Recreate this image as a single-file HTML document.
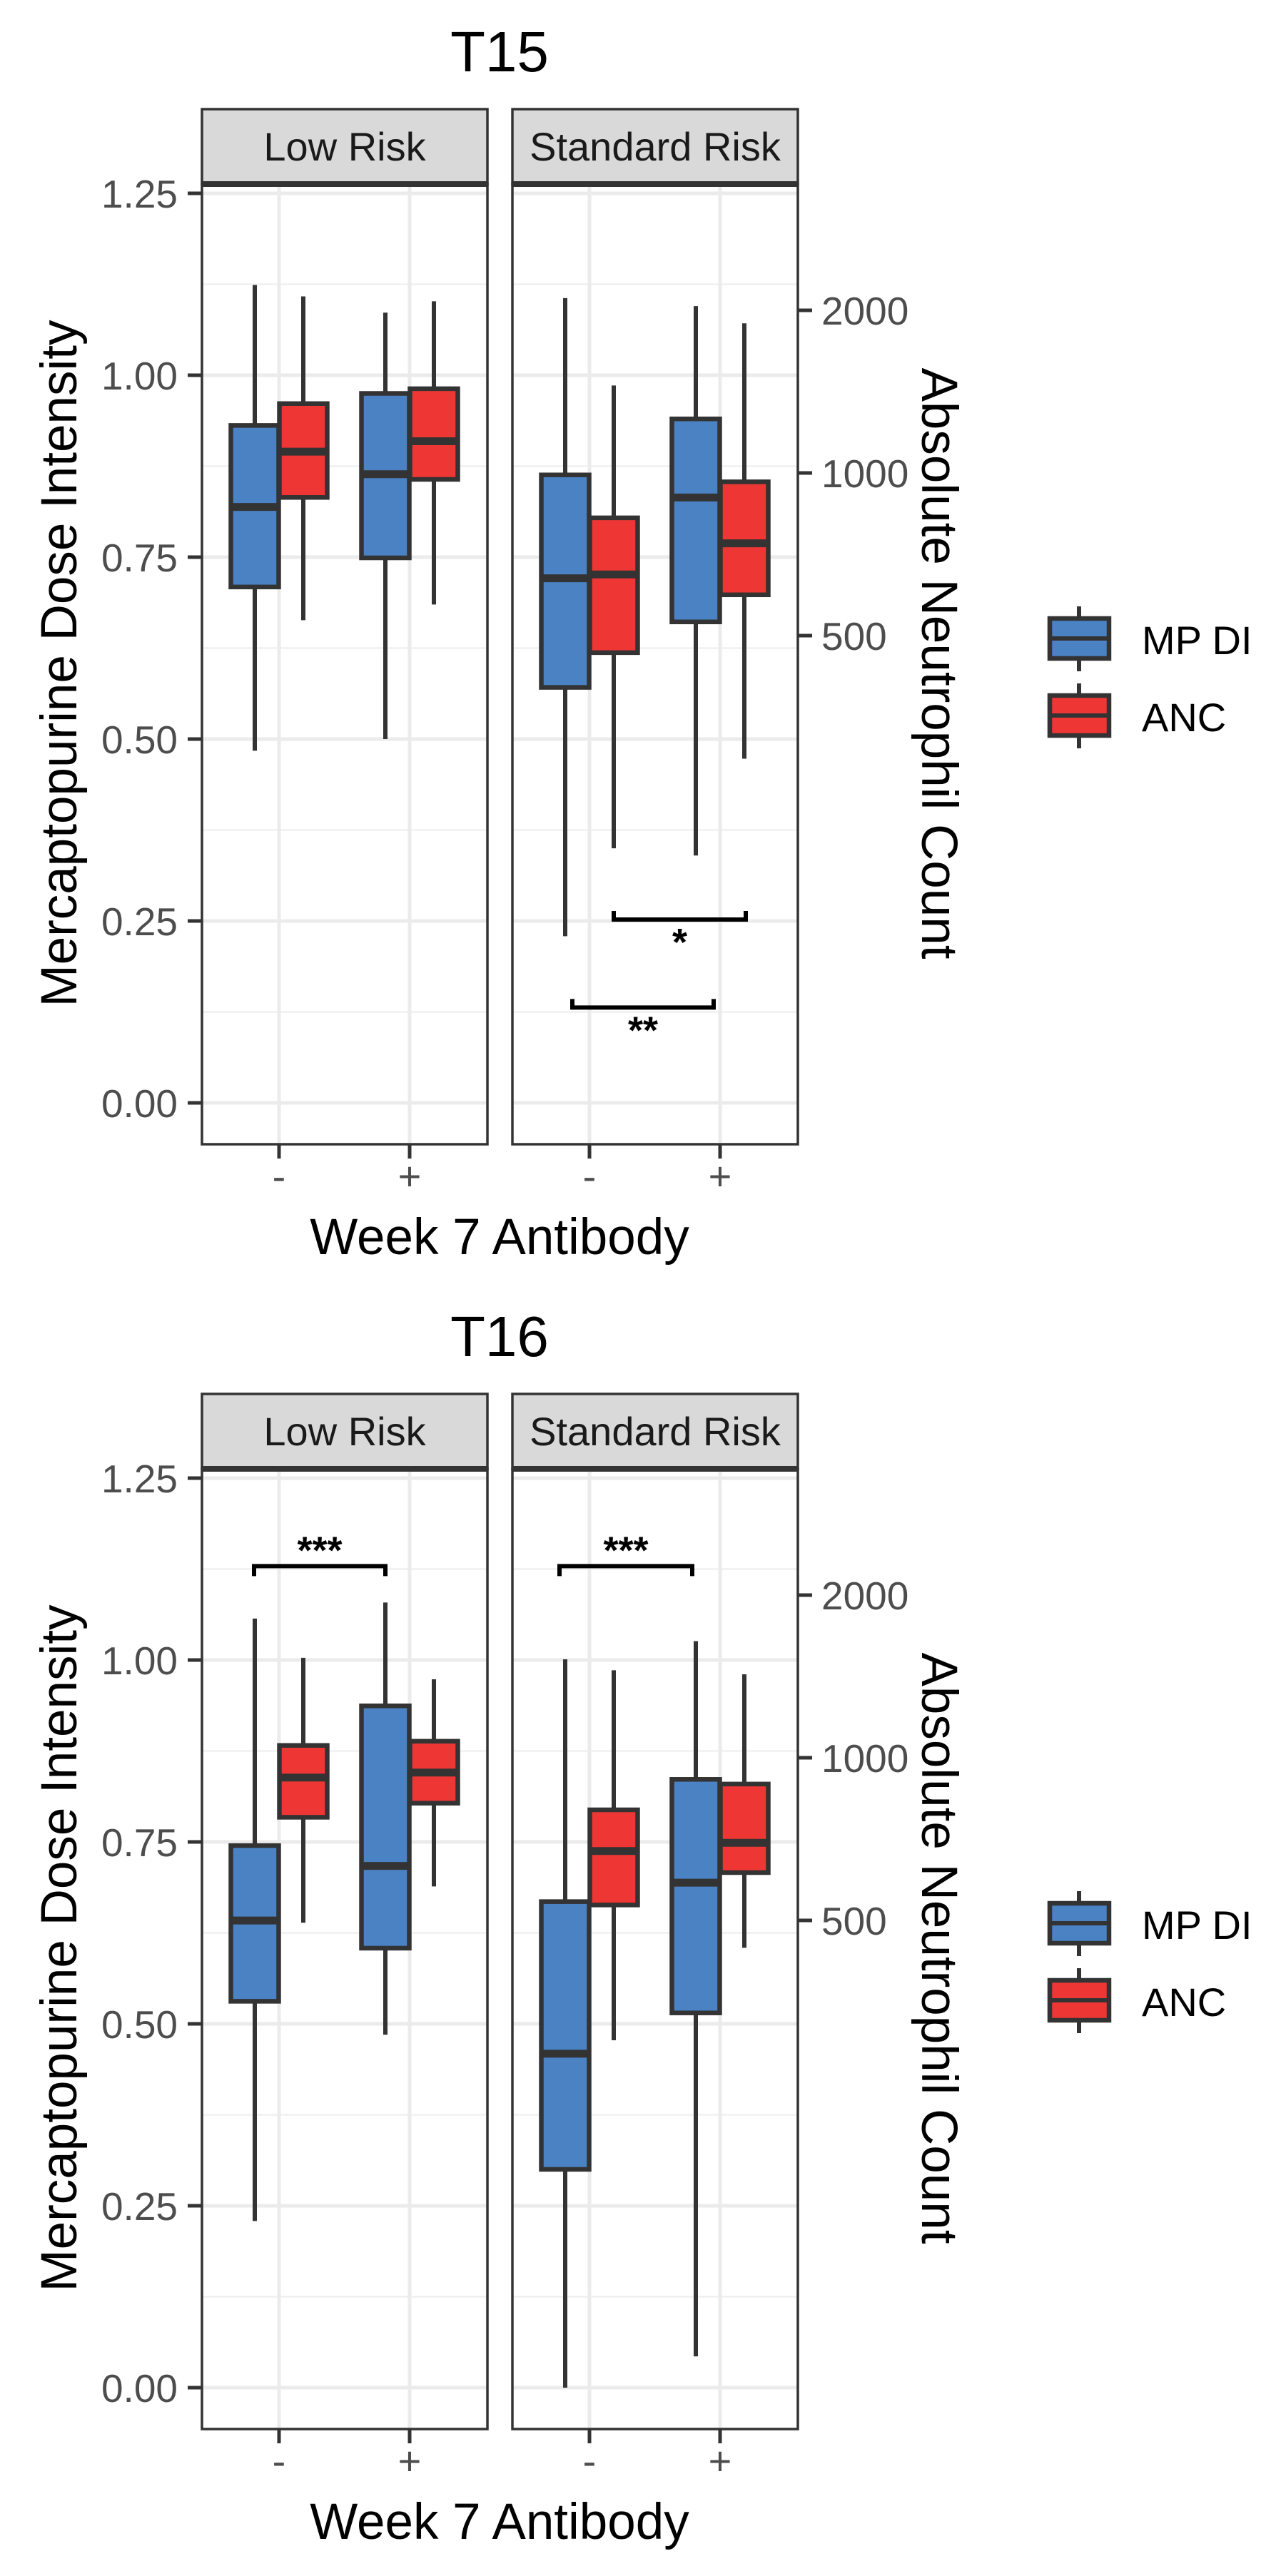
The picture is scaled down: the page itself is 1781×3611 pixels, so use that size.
<!DOCTYPE html>
<html><head><meta charset="utf-8"><style>
html,body{margin:0;padding:0;background:#fff;}
svg{display:block;font-family:"Liberation Sans",Arial,sans-serif;}
</style></head><body>
<svg id="chart" xmlns="http://www.w3.org/2000/svg" width="1781" height="3611" viewBox="0 0 1781 3611"></svg>
<script>
// ---- data ----
const plotTitles = ["T15", "T16"];
const facets = ["Low Risk", "Standard Risk"];
const groups = ["-", "+"];
const diTicks = [0, 0.25, 0.5, 0.75, 1.0, 1.25];
const diTickLabels = ["0.00", "0.25", "0.50", "0.75", "1.00", "1.25"];
const ancTicks = [500, 1000, 2000];
// MP DI boxes [facet][group] = [lowWhisker, q1, median, q3, highWhisker]
const mpdiT15 = [
  [[0.484, 0.709, 0.819, 0.931, 1.124], [0.500, 0.749, 0.864, 0.975, 1.086]],
  [[0.229, 0.571, 0.721, 0.863, 1.106], [0.340, 0.661, 0.832, 0.940, 1.095]]
];
const mpdiT16 = [
  [[0.229, 0.531, 0.642, 0.745, 1.057], [0.485, 0.604, 0.717, 0.937, 1.079]],
  [[0.000, 0.300, 0.459, 0.668, 1.001], [0.043, 0.515, 0.694, 0.836, 1.026]]
];
// ANC boxes
const ancT15 = [
  [[534, 901, 1095, 1344, 2122], [571, 973, 1145, 1432, 2078]],
  [[202, 465, 649, 826, 1452], [296, 595, 741, 963, 1892]]
];
const ancT16 = [
  [[495, 776, 919, 1054, 1531], [578, 824, 939, 1073, 1397]],
  [[300, 534, 672, 801, 1452], [445, 613, 696, 894, 1427]]
];
// significance brackets: [facet, y(DI), x offset from '-' centre, x offset from '+' centre, label, above?]
const sigT15 = [[1, 0.252, 34, 36, "*", false], [1, 0.131, -24, -9, "**", false]];
const sigT16 = [[0, 1.129, -35, -34, "***", true], [1, 1.129, -42, -39, "***", true]];

const mpdi = [mpdiT15, mpdiT16];
const anc = [ancT15, ancT16];
const sigs = [sigT15, sigT16];

// ---- layout ----
const NS = "http://www.w3.org/2000/svg";
const svg = document.getElementById("chart");
const plotOffset = [0, 1801];
const panelX = [[283, 683], [718, 1118]];
const groupX = [[391, 574], [826, 1009]];
const panelTop = 258, panelBottom = 1604, stripTop = 153;
const DODGE = 34, BW = 67;
const BLUE = "#4a82c3", RED = "#ee3735", DARK = "#333333";
function yDI(v, p) { return plotOffset[p] + 1546 - 1020 * v; }
function yANC(a, p) { return plotOffset[p] + 663 - 228 * Math.log2(a / 1000); }

function mk(tag, attrs, parent) {
  const e = document.createElementNS(NS, tag);
  for (const k in attrs) e.setAttribute(k, attrs[k]);
  (parent || svg).appendChild(e);
  return e;
}
function txt(s, attrs, parent) { const e = mk("text", attrs, parent); e.textContent = s; return e; }

function drawBox(g, cx, vals, yf, fill, name) {
  const grp = mk("g", {}, g);
  
  
  const [lo, q1, md, q3, hi] = vals.map(yf);
  mk("line", {x1: cx, x2: cx, y1: hi, y2: q3, stroke: DARK, "stroke-width": 6}, grp);
  mk("line", {x1: cx, x2: cx, y1: q1, y2: lo, stroke: DARK, "stroke-width": 6}, grp);
  mk("rect", {x: cx - BW / 2, y: q3, width: BW, height: q1 - q3, fill: fill, stroke: DARK, "stroke-width": 6.5}, grp);
  mk("line", {x1: cx - BW / 2, x2: cx + BW / 2, y1: md, y2: md, stroke: DARK, "stroke-width": 11}, grp);
}

for (let p = 0; p < 2; p++) {
  const off = plotOffset[p];
  const G = mk("g", {});
  
  

  const t = txt(plotTitles[p], {x: 700, y: off + 100, "font-size": 80, "text-anchor": "middle", fill: "#000"}, G);
  
  

  for (let f = 0; f < 2; f++) {
    const [x0, x1] = panelX[f];
    const pg = mk("g", {}, G);
    
    
    mk("rect", {x: x0, y: off + panelTop, width: x1 - x0, height: panelBottom - panelTop, fill: "#fff"}, pg);
    for (let i = 0; i < diTicks.length - 1; i++) {
      const v = (diTicks[i] + diTicks[i + 1]) / 2;
      mk("line", {x1: x0, x2: x1, y1: yDI(v, p), y2: yDI(v, p), stroke: "#f0f0f0", "stroke-width": 2.5}, pg);
    }
    diTicks.forEach(v => mk("line", {x1: x0, x2: x1, y1: yDI(v, p), y2: yDI(v, p), stroke: "#ebebeb", "stroke-width": 5}, pg));
    groupX[f].forEach(x => mk("line", {x1: x, x2: x, y1: off + panelTop, y2: off + panelBottom, stroke: "#ebebeb", "stroke-width": 5}, pg));

    for (let gi = 0; gi < 2; gi++) {
      drawBox(pg, groupX[f][gi] - DODGE, mpdi[p][f][gi], v => yDI(v, p), BLUE, 'box-mpdi-' + (gi ? 'pos' : 'neg'));
      drawBox(pg, groupX[f][gi] + DODGE, anc[p][f][gi], a => yANC(a, p), RED, 'box-anc-' + (gi ? 'pos' : 'neg'));
    }
    mk("rect", {x: x0, y: off + panelTop, width: x1 - x0, height: panelBottom - panelTop, fill: "none", stroke: DARK, "stroke-width": 3.5}, pg);
    const st = mk("g", {}, G);
    
    
    mk("rect", {x: x0, y: off + stripTop, width: x1 - x0, height: panelTop - stripTop, fill: "#d9d9d9", stroke: DARK, "stroke-width": 3.5}, st);
    mk("line", {x1: x0, x2: x1, y1: off + panelTop, y2: off + panelTop, stroke: DARK, "stroke-width": 8}, st);
    txt(facets[f], {x: (x0 + x1) / 2, y: off + 225, "font-size": 56, "text-anchor": "middle", fill: "#1a1a1a"}, st);
    groupX[f].forEach((x, gi) => {
      mk("line", {x1: x, x2: x, y1: off + panelBottom, y2: off + panelBottom + 20, stroke: DARK, "stroke-width": 5}, G);
      const lb = txt(groups[gi], {x: x, y: off + 1668, "font-size": 56, "text-anchor": "middle", fill: "#4d4d4d"}, G);
      
      
    });
  }
  diTicks.forEach((v, i) => {
    mk("line", {x1: 263, x2: 283, y1: yDI(v, p), y2: yDI(v, p), stroke: DARK, "stroke-width": 5}, G);
    const lb = txt(diTickLabels[i], {x: 249, y: yDI(v, p) + 20, "font-size": 55, "text-anchor": "end", fill: "#4d4d4d"}, G);
    
    
  });
  ancTicks.forEach(a => {
    mk("line", {x1: 1118, x2: 1138, y1: yANC(a, p), y2: yANC(a, p), stroke: DARK, "stroke-width": 5}, G);
    const lb = txt(String(a), {x: 1151, y: yANC(a, p) + 20, "font-size": 55, fill: "#4d4d4d"}, G);
    
    
  });
  const yt = txt("Mercaptopurine Dose Intensity", {x: 0, y: 0, "font-size": 71, "text-anchor": "middle", fill: "#000", transform: `translate(107,${off + 930}) rotate(-90)`}, G);
  
  
  const y2 = txt("Absolute Neutrophil Count", {x: 0, y: 0, "font-size": 71, "text-anchor": "middle", fill: "#000", transform: `translate(1292,${off + 930}) rotate(90)`}, G);
  
  
  const xt = txt("Week 7 Antibody", {x: 700, y: off + 1758, "font-size": 71, "text-anchor": "middle", fill: "#000"}, G);
  
  

  sigs[p].forEach(s => {
    const [f, v, d1, d2, label, above] = s;
    const xa = groupX[f][0] + d1, xb = groupX[f][1] + d2, y = yDI(v, p);
    const sg = mk("g", {}, G);
    
    
    const tk = above ? 14 : -12;
    mk("path", {d: `M${xa},${y + tk} L${xa},${y} L${xb},${y} L${xb},${y + tk}`, fill: "none", stroke: "#000", "stroke-width": 6}, sg);
    txt(label, {x: (xa + xb) / 2, y: above ? y - 4 : y + 50, "font-size": 54, "font-weight": "bold", "text-anchor": "middle", fill: "#000"}, sg);
  });

  const lg = mk("g", {}, G);
  
  
  [[BLUE, "MP DI", 867], [RED, "ANC", 975]].forEach(([c, name, y0]) => {
    const e = mk("g", {}, lg);
    
    
    mk("line", {x1: 1512, x2: 1512, y1: off + y0 - 17, y2: off + y0 + 74, stroke: DARK, "stroke-width": 6}, e);
    mk("rect", {x: 1471, y: off + y0, width: 83, height: 56, fill: c, stroke: DARK, "stroke-width": 6.5}, e);
    mk("line", {x1: 1471, x2: 1554, y1: off + y0 + 28, y2: off + y0 + 28, stroke: DARK, "stroke-width": 6}, e);
    txt(name, {x: 1600, y: off + y0 + 50, "font-size": 56, fill: "#000"}, e);
  });
}
</script>
</body></html>
